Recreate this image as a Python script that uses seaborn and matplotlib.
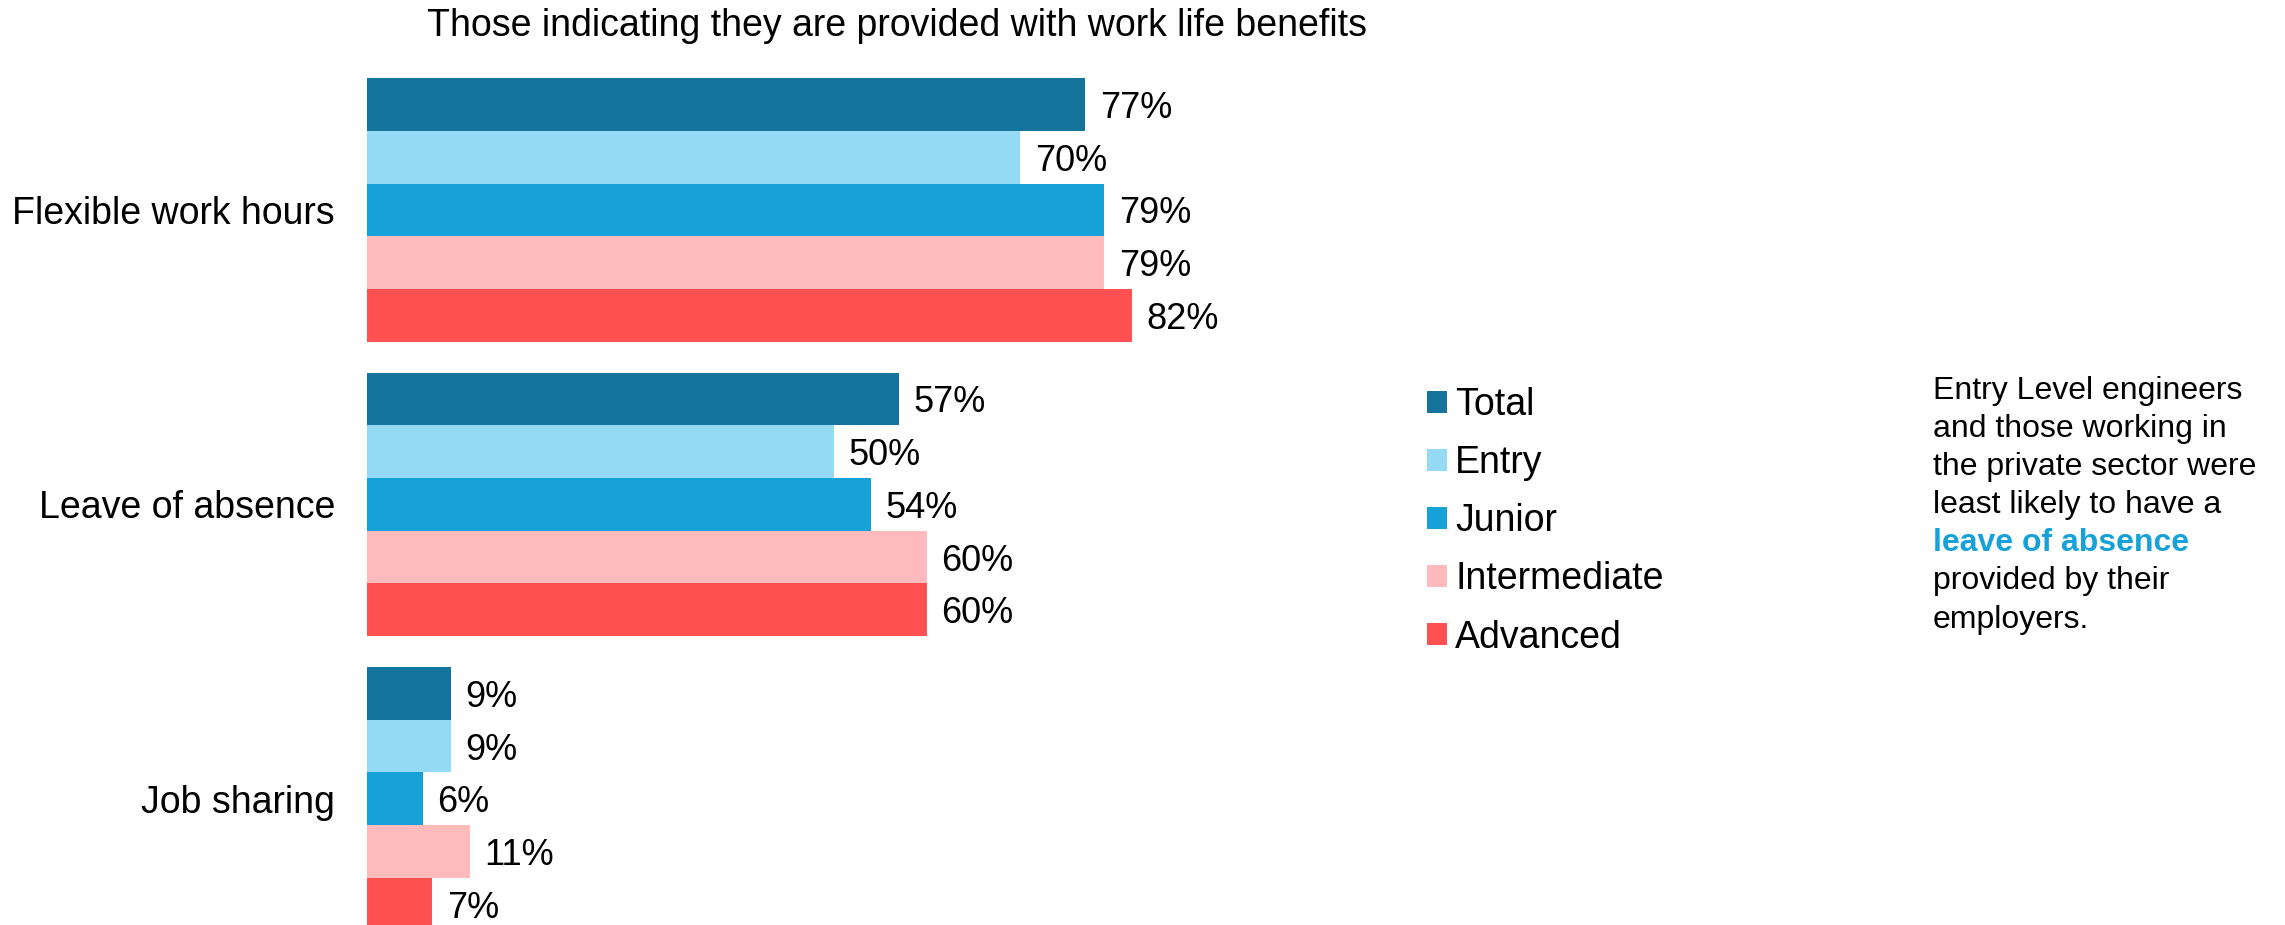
import matplotlib
matplotlib.use("Agg")
import matplotlib.pyplot as plt
from matplotlib.patches import Patch
import seaborn as sns
import pandas as pd

# ---- data ----
categories = ["Flexible work hours", "Leave of absence", "Job sharing"]
levels = ["Total", "Entry", "Junior", "Intermediate", "Advanced"]
total = [77, 57, 9]
entry = [70, 50, 9]
junior = [79, 54, 6]
intermediate = [79, 60, 11]
advanced = [82, 60, 7]
colors = ["#14749B", "#95DAF5", "#16A2D8", "#FFBBBB", "#FF5151"]

title = "Those indicating they are provided with work life benefits"
note_lines = ["Entry Level engineers", "and those working in",
              "the private sector were", "least likely to have a",
              "leave of absence", "provided by their", "employers."]
highlight = "leave of absence"

values = {"Total": total, "Entry": entry, "Junior": junior,
          "Intermediate": intermediate, "Advanced": advanced}
rows = []
for lvl in levels:
    for cat, v in zip(categories, values[lvl]):
        rows.append({"Category": cat, "Level": lvl, "Value": v})
df = pd.DataFrame(rows)
palette = dict(zip(levels, colors))

sns.set_style("white")
plt.rcParams["font.family"] = ["Liberation Sans", "DejaVu Sans"]
plt.rcParams["text.color"] = "black"
plt.rcParams["ytick.color"] = "black"
plt.rcParams["xtick.color"] = "black"
plt.rcParams["axes.labelcolor"] = "black"

W_PX, H_PX = 2285, 925
fig = plt.figure(figsize=(W_PX / 100, H_PX / 100), dpi=100)
left_px, width_px = 367, 934
ax = fig.add_axes([left_px / W_PX, 0, width_px / W_PX, 1])

sns.barplot(data=df, x="Value", y="Category", hue="Level",
            order=categories, hue_order=levels, palette=palette,
            width=0.895, orient="h", ax=ax, legend=False,
            linewidth=0, saturation=1, errorbar=None)
ax.set_ylim(2.4287, -0.7133)
ax.set_xlim(0, width_px / 9.33)
for c in ax.containers:
    texts = ax.bar_label(c, labels=[f"{v:.0f}%" for v in c.datavalues],
                         padding=10.5, fontsize=26, color="black")
    for t in texts:
        t.set_verticalalignment("center_baseline")
sns.despine(ax=ax, left=True, bottom=True)
ax.set_xticks([])
ax.set_xlabel("")
ax.set_ylabel("")
ax.tick_params(axis="y", length=0, pad=23, labelsize=27, labelcolor="black")

# legend
handles = [Patch(facecolor=palette[l], edgecolor="none") for l in levels]
fig.legend(handles, levels, loc="upper left",
           bbox_to_anchor=(1427 / W_PX, 1 - 387 / H_PX),
           frameon=False, fontsize=27, handlelength=0.53, handleheight=0.53,
           handletextpad=0.22, labelspacing=0.59, borderpad=0, borderaxespad=0,
           labelcolor="black")

# title
fig.text(427 / W_PX, 1 - 36 / H_PX, title, fontsize=27, color="black",
         va="baseline", ha="left")

# note
for i, line in enumerate(note_lines):
    y = 1 - (398.5 + i * 38.2) / H_PX
    if line == highlight:
        fig.text(1933 / W_PX, y, line, fontsize=23, fontweight="bold",
                 color="#16A2D8", va="baseline")
    else:
        fig.text(1933 / W_PX, y, line, fontsize=23, color="black", va="baseline")

fig.savefig("out.png", dpi=100)
